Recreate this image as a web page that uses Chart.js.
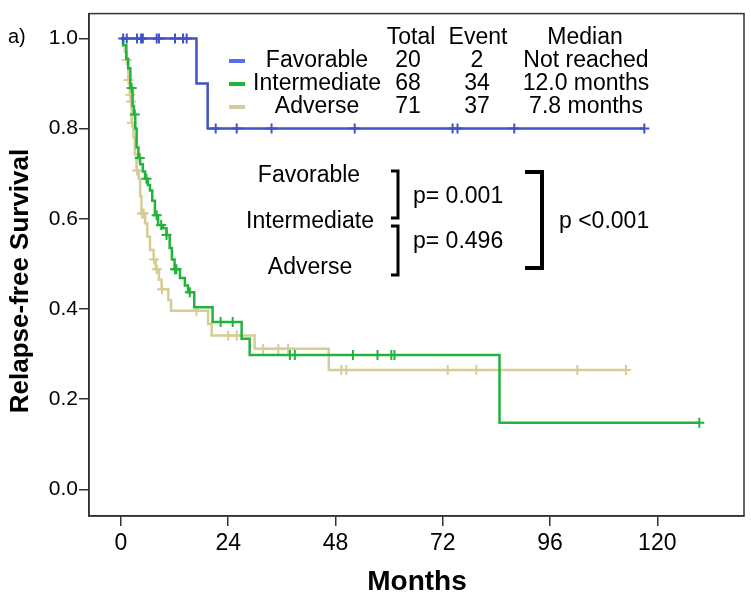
<!DOCTYPE html>
<html>
<head>
<meta charset="utf-8">
<script src="https://cdn.jsdelivr.net/npm/chart.js@4.4.1/dist/chart.umd.min.js"></script>
<style>
  html, body { margin: 0; padding: 0; background: #fff; }
  #wrap { width: 751px; height: 600px; }
</style>
</head>
<body>
<div id="wrap"><canvas id="km"></canvas></div>
<script>
const FONT = '"Liberation Sans", Arial, sans-serif';

// step points: time (months) where survival drops, and the new survival
const favT = [0, 16.9, 19.4, 117.1];
const favS = [1.0, 0.9, 0.8, 0.8];
const favCensor = [0.5, 1.3, 3.6, 4.5, 4.9, 8.0, 8.5, 12.1, 13.9, 14.7, 21.2, 25.9, 33.7, 52.3, 74.2, 75.3, 88.0, 117.1];

const intT = [0, 0.5, 1.2, 1.6, 2.1, 2.6, 2.9, 3.2, 3.5, 3.9, 4.3, 4.9, 5.4, 6.0, 6.5, 7.0, 7.6, 8.3, 9.4, 10.2, 10.9, 11.4, 12.0, 13.2, 14.3, 15.0, 16.4, 20.5, 27.0, 28.8, 84.7, 129.4];
const intS = [1.0, 0.985, 0.955, 0.934, 0.89, 0.85, 0.831, 0.8, 0.758, 0.735, 0.721, 0.705, 0.689, 0.675, 0.663, 0.64, 0.608, 0.586, 0.579, 0.564, 0.535, 0.51, 0.488, 0.469, 0.452, 0.437, 0.404, 0.371, 0.334, 0.298, 0.148, 0.148];
const intCensor = [2.4, 3.1, 4.2, 5.7, 8.0, 9.0, 10.2, 12.1, 12.4, 15.4, 22.3, 25.0, 37.8, 38.9, 51.9, 57.4, 60.5, 61.2, 129.4];

const advT = [0, 0.4, 0.9, 1.27, 1.63, 2.0, 2.2, 2.4, 2.8, 3.1, 3.5, 4.0, 4.3, 4.6, 5.4, 5.9, 6.5, 7.3, 7.8, 8.5, 9.1, 10.6, 11.2, 19.5, 20.3, 29.9, 46.5, 113.0];
const advS = [1.0, 0.985, 0.97, 0.952, 0.908, 0.875, 0.86, 0.813, 0.78, 0.743, 0.707, 0.689, 0.65, 0.612, 0.59, 0.56, 0.531, 0.51, 0.488, 0.465, 0.444, 0.42, 0.396, 0.367, 0.341, 0.312, 0.265, 0.265];
const advCensor = [1.3, 1.7, 2.1, 2.3, 2.5, 3.6, 4.7, 5.1, 7.4, 8.0, 9.2, 16.9, 24.0, 25.9, 31.8, 35.2, 37.4, 49.3, 50.4, 73.1, 79.5, 102.1, 113.0];

const groups = ['Favorable', 'Intermediate', 'Adverse'];
const totals = ['20', '68', '71'];
const events = ['2', '34', '37'];
const medians = ['Not reached', '12.0 months', '7.8 months'];
const colors = ['#3f53c6', '#22b33c', '#d5cc96'];
const legendColors = ['#5a6cf2', '#22b33c', '#d5cc96'];

const xTicks = [0, 24, 48, 72, 96, 120];
const yTicks = [0, 0.2, 0.4, 0.6, 0.8, 1.0];

function steps(t, s) {
  return t.map((v, i) => ({ x: v, y: s[i] }));
}
function censorPts(c, t, s) {
  return c.map(v => {
    let y = s[0];
    for (let i = 0; i < t.length; i++) if (t[i] <= v) y = s[i];
    return { x: v, y: y };
  });
}

function lineSet(data, color) {
  return { type: 'line', data: data, borderColor: color, borderWidth: 2.5, stepped: 'before', pointRadius: 0, fill: false };
}
function censorSet(data, color) {
  return { type: 'scatter', data: data, borderColor: color, backgroundColor: color, pointStyle: 'cross', pointRadius: 5, borderWidth: 2 };
}

const overlay = {
  id: 'overlay',
  afterDraw(chart) {
    const c = chart.ctx;
    const a = chart.chartArea;
    c.save();
    c.strokeStyle = '#333';
    c.lineWidth = 1.5;
    c.strokeRect(a.left, a.top, a.right - a.left, a.bottom - a.top);

    c.fillStyle = '#000';
    c.textBaseline = 'middle';
    c.textAlign = 'left';
    c.font = '20px ' + FONT;
    c.fillText('a)', 8, 37);

    // axis titles
    c.textAlign = 'center';
    c.font = 'bold 28px ' + FONT;
    c.fillText('Months', 417, 582);
    c.save();
    c.translate(21, 281);
    c.rotate(-Math.PI / 2);
    c.font = 'bold 26px ' + FONT;
    c.fillText('Relapse-free Survival', 0, 0);
    c.restore();

    // legend table
    c.font = '23px ' + FONT;
    c.fillText('Total', 411, 38);
    c.fillText('Event', 478, 38);
    c.fillText('Median', 585, 38);
    const rows = [61, 84, 107];
    groups.forEach((g, i) => {
      c.fillStyle = '#000';
      c.fillText(g, 317, rows[i]);
      c.fillText(totals[i], 408, rows[i]);
      c.fillText(events[i], 477, rows[i]);
      c.fillText(medians[i], 586, rows[i]);
      c.strokeStyle = legendColors[i];
      c.lineWidth = 4;
      c.beginPath();
      c.moveTo(229, rows[i]);
      c.lineTo(245, rows[i]);
      c.stroke();
    });

    // comparison brackets
    c.fillStyle = '#000';
    c.fillText(groups[0], 309, 176);
    c.fillText(groups[1], 310, 222);
    c.fillText(groups[2], 310, 268);
    c.textAlign = 'left';
    c.fillText('p= 0.001', 413, 197);
    c.fillText('p= 0.496', 413, 242);
    c.fillText('p <0.001', 559, 222);
    c.strokeStyle = '#000';
    c.lineWidth = 3;
    const br = (x0, x1, y0, y1) => {
      c.beginPath();
      c.moveTo(x0, y0); c.lineTo(x1, y0); c.lineTo(x1, y1); c.lineTo(x0, y1);
      c.stroke();
    };
    br(391, 398, 171, 218);
    br(391, 398, 226, 275);
    c.lineWidth = 4;
    br(525, 542, 172, 268);
    c.restore();
  }
};

new Chart(document.getElementById('km'), {
  data: {
    datasets: [
      censorSet(censorPts(favCensor, favT, favS), colors[0]),
      lineSet(steps(favT, favS), colors[0]),
      censorSet(censorPts(intCensor, intT, intS), colors[1]),
      lineSet(steps(intT, intS), colors[1]),
      censorSet(censorPts(advCensor, advT, advS), colors[2]),
      lineSet(steps(advT, advS), colors[2]),
    ],
  },
  options: {
    responsive: true,
    maintainAspectRatio: false,
    animation: false,
    layout: { padding: { top: 8, right: 6, left: 0, bottom: 0 } },
    plugins: { legend: { display: false }, tooltip: { enabled: false } },
    scales: {
      x: {
        type: 'linear',
        min: -7.15,
        max: 139.4,
        afterBuildTicks: s => { s.ticks = xTicks.map(v => ({ value: v })); },
        afterFit: s => { s.height = 84; },
        grid: { display: true, drawOnChartArea: false, drawTicks: true, tickLength: 10, color: '#333', lineWidth: 1.5 },
        border: { display: true, color: '#333', width: 1.5 },
        ticks: { color: '#000', font: { family: FONT, size: 23 }, padding: 4, maxRotation: 0 },
      },
      y: {
        type: 'linear',
        min: -0.059,
        max: 1.055,
        afterBuildTicks: s => { s.ticks = yTicks.map(v => ({ value: v })); },
        afterFit: s => { s.width = 89; },
        grid: { display: true, drawOnChartArea: false, drawTicks: true, tickLength: 10, color: '#333', lineWidth: 1.5 },
        border: { display: true, color: '#333', width: 1.5 },
        ticks: { color: '#000', font: { family: FONT, size: 21 }, padding: 1, callback: v => v.toFixed(1) },
      },
    },
  },
  plugins: [overlay],
});
</script>
</body>
</html>
